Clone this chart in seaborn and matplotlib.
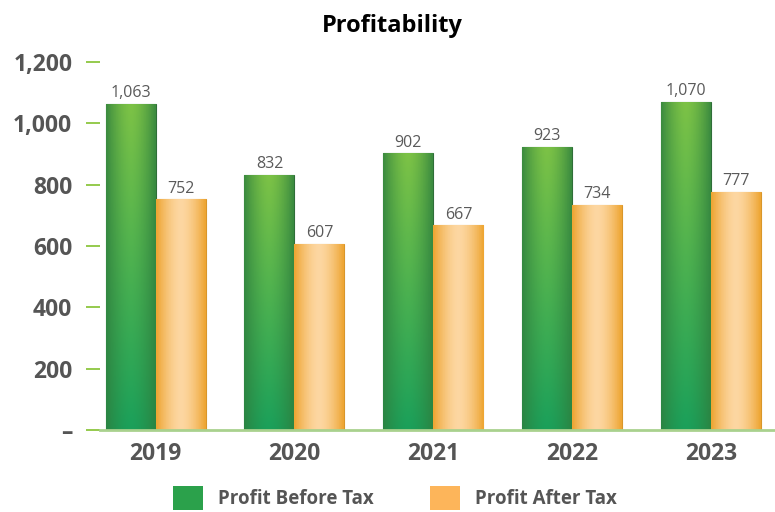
import numpy as np
import pandas as pd
import matplotlib
matplotlib.use("Agg")
import matplotlib.pyplot as plt
import matplotlib.colors as mcolors
from matplotlib.patches import Patch
import seaborn as sns

# data
years = ["2019", "2020", "2021", "2022", "2023"]
before_tax = [1063, 832, 902, 923, 1070]
after_tax = [752, 607, 667, 734, 777]
series = ["Profit Before Tax", "Profit After Tax"]

df = pd.DataFrame({
    "year": years * 2,
    "value": before_tax + after_tax,
    "series": [series[0]] * len(years) + [series[1]] * len(years),
})

sns.set_theme(style="white")
plt.rcParams["font.family"] = ["Open Sans", "DejaVu Sans"]

grey = "#555555"
tick_green = "#8cc63f"
base_green = "#a9d18e"

fig = plt.figure(figsize=(7.75, 5.12), dpi=100)
ax = fig.add_axes([100 / 775, 1 - 430 / 512, 1 - 100 / 775, (430 - 62) / 512])

sns.barplot(data=df, x="year", y="value", hue="series", hue_order=series,
            palette=["#3aae4a", "#f7b347"], width=0.72, gap=0, legend=False,
            saturation=1, ax=ax)


def bar_image(kind, nrow=60, ncol=30):
    t = np.linspace(0, 1, ncol)
    centre = 1 - np.abs(2 * t - 1) ** 1.6
    v = np.linspace(0, 1, nrow)[:, None]
    if kind == 0:
        top = np.array(mcolors.to_rgb("#7cc246"))
        bottom = np.array(mcolors.to_rgb("#1ba05a"))
        edge = np.array(mcolors.to_rgb("#2e7f3e"))
        mid = top[None, None, :] * (1 - v[..., None]) + bottom[None, None, :] * v[..., None]
        f = centre[None, :, None] * 0.8 + 0.2
        img = edge[None, None, :] * (1 - f) + mid * f
    else:
        c = np.array(mcolors.to_rgb("#fdd7a2"))
        edge = np.array(mcolors.to_rgb("#eea634"))
        f = centre[None, :, None]
        img = edge[None, None, :] * (1 - f) + c[None, None, :] * f
        img = np.repeat(img, nrow, axis=0)
    return np.clip(img, 0, 1)


n = len(years)
for i, patch in enumerate(ax.patches):
    kind = 0 if i < n else 1
    x0, w, h = patch.get_x(), patch.get_width(), patch.get_height()
    im = ax.imshow(bar_image(kind), extent=[x0, x0 + w, 0, h], origin="upper",
                   aspect="auto", zorder=patch.get_zorder() + 0.1)
    im.set_clip_path(patch)
    patch.set_edgecolor("#2f6e38" if kind == 0 else "#d9962a")
    patch.set_linewidth(0.8)

for cont in ax.containers:
    ax.bar_label(cont, fmt="{:,.0f}", padding=2, fontsize=11.5, color="#5a5a5a", zorder=5)

ax.set_xlim(-0.4, 4.46)
ax.set_ylim(0, 1200)
ax.set_yticks([0, 200, 400, 600, 800, 1000, 1200])
ax.set_yticklabels(["–", "200", "400", "600", "800", "1,000", "1,200"])
ax.set_xlabel("")
ax.set_ylabel("")

for s in ["top", "right", "left"]:
    ax.spines[s].set_visible(False)
ax.spines["bottom"].set_color(base_green)
ax.spines["bottom"].set_linewidth(2)

ax.tick_params(axis="y", left=True, length=10, width=1.3, color=tick_green, pad=10,
               labelsize=16.5, labelcolor=grey)
ax.tick_params(axis="x", bottom=False, length=0, pad=9, labelsize=16.5, labelcolor=grey)
for lab in ax.get_yticklabels() + ax.get_xticklabels():
    lab.set_fontweight("bold")

fig.text(0.506, 1 - 26 / 512, "Profitability", ha="center", va="center",
         fontsize=17, fontweight="bold", color="black")

handles = [Patch(facecolor="#2ba14b", edgecolor="none"),
           Patch(facecolor="#fdb55a", edgecolor="none")]
fig.legend(handles, series, loc="center", bbox_to_anchor=(0.51, 1 - 498 / 512),
           ncol=2, frameon=False, handlelength=1.6, handleheight=1.6,
           handletextpad=0.8, columnspacing=3.0,
           prop={"size": 13.5, "weight": "bold"}, labelcolor=grey)

fig.savefig("out.png", dpi=100)
